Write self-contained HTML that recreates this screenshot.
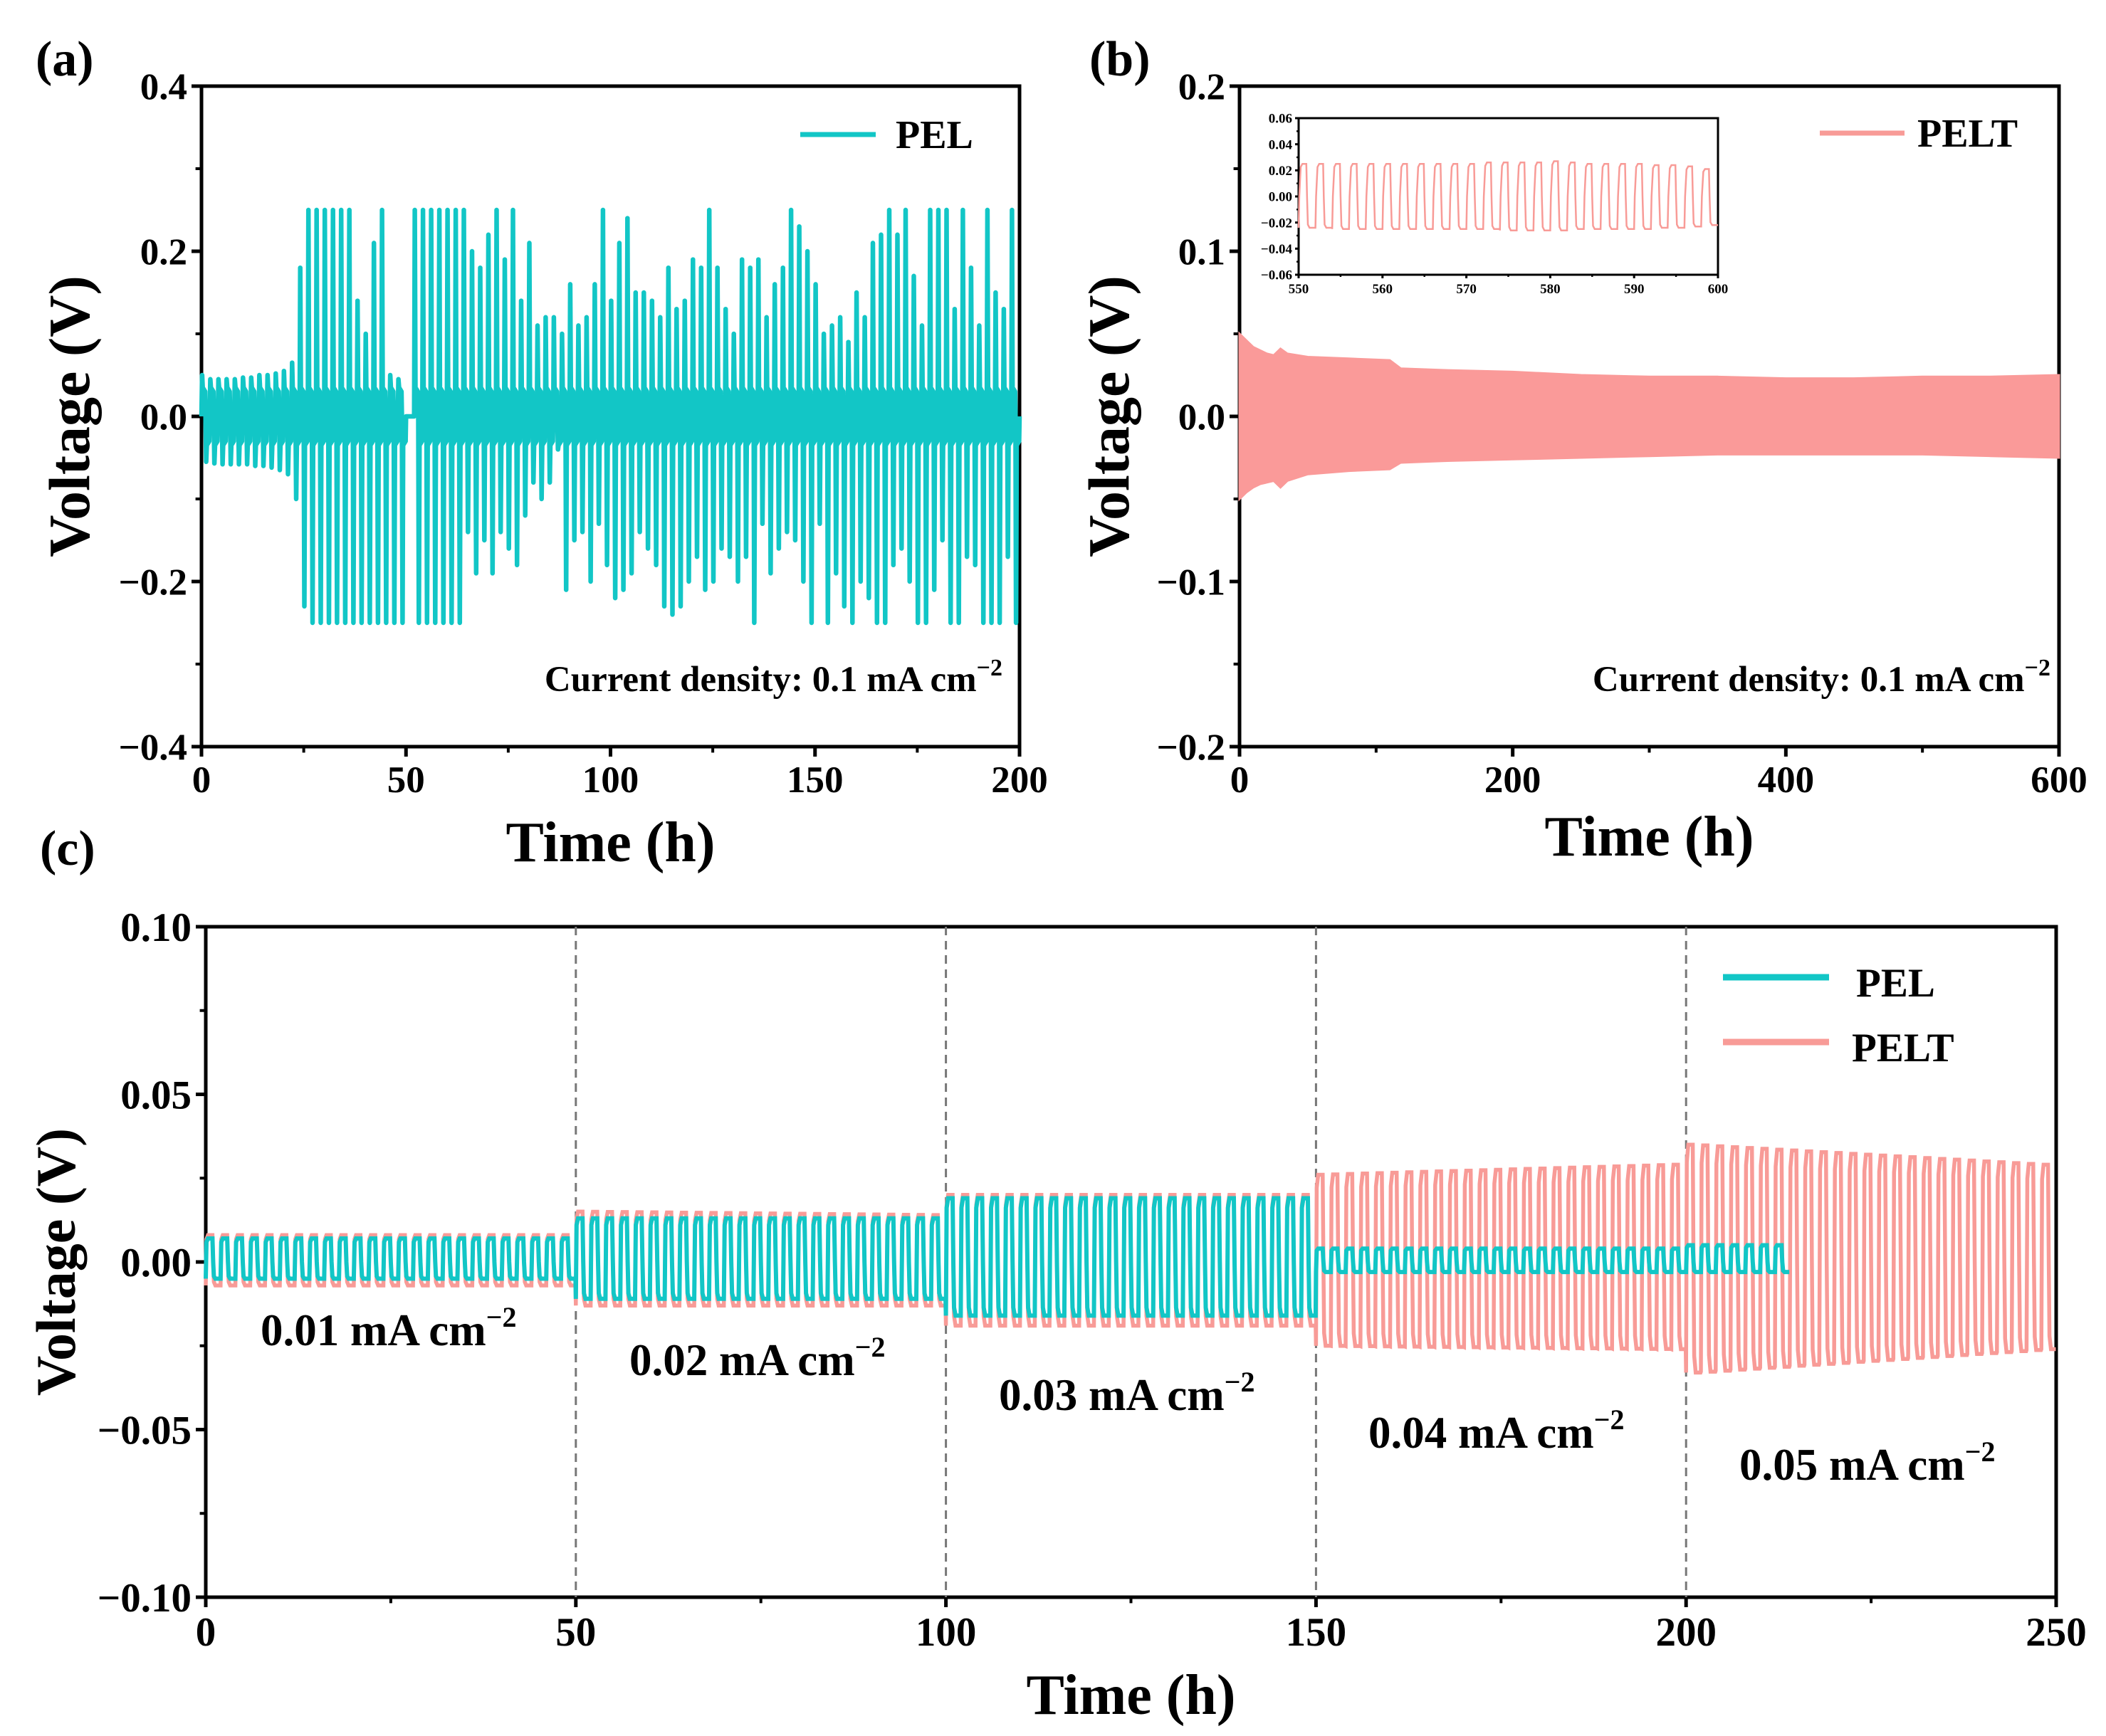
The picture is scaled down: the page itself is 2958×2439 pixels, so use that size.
<!DOCTYPE html>
<html><head><meta charset="utf-8"><style>
html,body{margin:0;padding:0;background:#fff;}
svg{display:block;font-family:"Liberation Serif",serif;font-weight:bold;}
</style></head><body>
<svg id="fig" width="2958" height="2439" viewBox="0 0 2958 2439" xmlns="http://www.w3.org/2000/svg"></svg>
<script>
// ---------- DATA ----------
const aCycleStart = [0,2,4,6,8,10,12,14,16,18,20,22,24,26,28,30,32,34,36,38,40,42,44,46,48,50,52,54,56,58,60,62,64,66,68,70,72,74,76,78,80,82,84,86,88,90,92,94,96,98,100,102,104,106,108,110,112,114,116,118,120,122,124,126,128,130,132,134,136,138,140,142,144,146,148,150,152,154,156,158,160,162,164,166,168,170,172,174,176,178,180,182,184,186,188,190,192,194,196,198];
const aPeakUp = [0.05,0.045,0.045,0.045,0.045,0.047,0.047,0.05,0.05,0.052,0.055,0.065,0.18,0.25,0.25,0.25,0.25,0.25,0.25,0.14,0.1,0.21,0.25,0.05,0.045,0.0,0.25,0.25,0.25,0.25,0.25,0.25,0.25,0.2,0.18,0.22,0.25,0.19,0.25,0.14,0.21,0.11,0.12,0.12,0.1,0.16,0.11,0.12,0.16,0.25,0.14,0.21,0.24,0.15,0.15,0.14,0.12,0.18,0.13,0.14,0.19,0.18,0.25,0.18,0.13,0.1,0.19,0.18,0.19,0.12,0.16,0.18,0.25,0.23,0.2,0.16,0.1,0.11,0.12,0.09,0.15,0.12,0.21,0.22,0.25,0.22,0.25,0.17,0.11,0.25,0.25,0.25,0.13,0.25,0.18,0.11,0.25,0.15,0.13,0.25];
const aPeakDown = [-0.055,-0.057,-0.058,-0.058,-0.058,-0.058,-0.06,-0.06,-0.062,-0.065,-0.07,-0.1,-0.23,-0.25,-0.25,-0.25,-0.25,-0.25,-0.25,-0.25,-0.25,-0.25,-0.25,-0.25,-0.25,0.0,-0.25,-0.25,-0.25,-0.25,-0.25,-0.25,-0.14,-0.19,-0.15,-0.19,-0.14,-0.16,-0.18,-0.12,-0.08,-0.1,-0.08,-0.04,-0.21,-0.15,-0.14,-0.2,-0.13,-0.18,-0.22,-0.21,-0.19,-0.14,-0.16,-0.18,-0.23,-0.24,-0.23,-0.2,-0.17,-0.21,-0.2,-0.16,-0.17,-0.2,-0.17,-0.25,-0.13,-0.19,-0.16,-0.14,-0.15,-0.2,-0.25,-0.13,-0.25,-0.19,-0.23,-0.25,-0.2,-0.22,-0.25,-0.25,-0.18,-0.16,-0.2,-0.25,-0.25,-0.21,-0.15,-0.25,-0.25,-0.17,-0.18,-0.25,-0.25,-0.25,-0.17,-0.25];
const bTimes = [0,5,10,15,20,25,30,35,50,80,110,118,150,200,250,300,350,400,450,500,550,600];
const bUpper = [0.05,0.046,0.042,0.04,0.038,0.037,0.041,0.038,0.036,0.035,0.034,0.029,0.028,0.027,0.025,0.024,0.024,0.023,0.023,0.024,0.024,0.025];
const bLower = [-0.05,-0.046,-0.043,-0.041,-0.04,-0.039,-0.043,-0.039,-0.035,-0.033,-0.032,-0.028,-0.027,-0.026,-0.025,-0.024,-0.023,-0.023,-0.023,-0.023,-0.024,-0.025];
const insetCycleStart = [550,552,554,556,558,560,562,564,566,568,570,572,574,576,578,580,582,584,586,588,590,592,594,596,598];
const insetUp = [0.025,0.025,0.025,0.025,0.025,0.025,0.025,0.025,0.025,0.025,0.025,0.026,0.026,0.026,0.026,0.027,0.026,0.025,0.025,0.025,0.025,0.024,0.024,0.023,0.021];
const insetDown = [-0.024,-0.024,-0.025,-0.025,-0.025,-0.025,-0.025,-0.025,-0.025,-0.025,-0.025,-0.025,-0.026,-0.026,-0.026,-0.026,-0.025,-0.025,-0.025,-0.025,-0.025,-0.024,-0.024,-0.023,-0.022];
const cSegStart = [0,50,100,150,200];
const cSegLabels = ["0.01","0.02","0.03","0.04","0.05"];
const pelUp = [0.007,0.013,0.019,0.004,0.005];
const pelDown = [-0.005,-0.011,-0.016,-0.003,-0.003];
const pelEnd = 215;
const peltUpStart = [0.008,0.015,0.02,0.026,0.035];
const peltUpEnd = [0.008,0.014,0.02,0.029,0.029];
const peltDownStart = [-0.007,-0.013,-0.019,-0.025,-0.033];
const peltDownEnd = [-0.007,-0.013,-0.019,-0.026,-0.026];
const cTicksX = [0,50,100,150,200,250];
const cTicksY = [-0.10,-0.05,0.00,0.05,0.10];

// ---------- HELPERS ----------
const NS="http://www.w3.org/2000/svg";
const svg=document.getElementById('fig');
function el(tag,attrs,parent){const e=document.createElementNS(NS,tag);for(const k in attrs)e.setAttribute(k,attrs[k]);(parent||svg).appendChild(e);return e;}
function txt(s,x,y,size,anchor,parent){const t=el('text',{x:x,y:y,'font-size':size,'text-anchor':anchor||'start'},parent);t.textContent=s;return t;}
function fmtMinus(v,d){const s=Math.abs(v).toFixed(d);return v<0?'\u2212'+s:s;}
const CYAN='#12c6c6', PINK='#f89b97';

function axes(p){
  const g=el('g',{});
  
  
  el('rect',{x:p.L,y:p.T,width:p.R-p.L,height:p.B-p.T,fill:'none',stroke:'#000','stroke-width':p.sw||5},g);
  p.xt.forEach(v=>{const x=p.sx(v);el('line',{x1:x,y1:p.B,x2:x,y2:p.B+p.tl,stroke:'#000','stroke-width':p.sw||5},g);
    const t=txt(p.xf(v),x,p.B+p.xlo,p.fs,'middle',g);});
  (p.xm||[]).forEach(v=>{const x=p.sx(v);el('line',{x1:x,y1:p.B,x2:x,y2:p.B+p.tl*0.6,stroke:'#000','stroke-width':(p.sw||5)*0.8},g);});
  p.yt.forEach(v=>{const y=p.sy(v);el('line',{x1:p.L-p.tl,y1:y,x2:p.L,y2:y,stroke:'#000','stroke-width':p.sw||5},g);
    const t=txt(p.yf(v),p.L-p.ylo,y+p.fs*0.35,p.fs,'end',g);});
  (p.ym||[]).forEach(v=>{const y=p.sy(v);el('line',{x1:p.L-p.tl*0.6,y1:y,x2:p.L,y2:y,stroke:'#000','stroke-width':(p.sw||5)*0.8},g);});
  return g;
}

// ---------- PANEL A ----------
(function(){
  const L=283,R=1432,T=121,B=1049;
  const sx=v=>L+(v-0)/200*(R-L), sy=v=>B-(v+0.4)/0.8*(B-T);
  axes({name:'panel-a',L,R,T,B,sx,sy,xt:[0,50,100,150,200],xm:[25,75,125,175],yt:[-0.4,-0.2,0,0.2,0.4],ym:[-0.3,-0.1,0.1,0.3],
    xf:v=>String(v),yf:v=>fmtMinus(v,1),fs:53,tl:14,xlo:64,ylo:20});
  let d='';
  aCycleStart.forEach((t0,i)=>{
    const u=aPeakUp[i], dn=aPeakDown[i];
    if(u===0&&dn===0){d+=(d?'L':'M')+sx(t0)+','+sy(0)+'L'+sx(t0+2)+','+sy(0);return;}
    const pts=[[t0,0],[t0+0.15,u],[t0+0.3,0.035],[t0+0.9,0.03],[t0+1.0,0],[t0+1.15,dn],[t0+1.3,-0.035],[t0+1.9,-0.03],[t0+2,0]];
    pts.forEach((p,j)=>{d+=((d===''&&j===0)?'M':'L')+sx(p[0]).toFixed(1)+','+sy(p[1]).toFixed(1);});
  });
  const ln=el('path',{d:d,fill:'none',stroke:CYAN,'stroke-width':6.5,'stroke-linejoin':'round'});
  
  
  const lg=el('line',{x1:1124,y1:189,x2:1230,y2:189,stroke:CYAN,'stroke-width':7});
  
  
  const lt=txt('PEL',1258,208,56);
  const an=el('text',{x:1408,y:971,'font-size':51,'text-anchor':'end'});
  an.innerHTML='Current density: 0.1 mA cm<tspan dy="-22" font-size="34">\u22122</tspan>';
  
  const yt=txt('Voltage (V)',0,0,82,'middle');yt.setAttribute('transform','translate(125,'+((T+B)/2)+') rotate(-90)');
  
  const xt=txt('Time (h)',(L+R)/2,1210,80,'middle');
  const pl=txt('(a)',50,106,70);
})();

// ---------- PANEL B ----------
(function(){
  const L=1741,R=2892,T=121,B=1049;
  const sx=v=>L+v/600*(R-L), sy=v=>B-(v+0.2)/0.4*(B-T);
  axes({name:'panel-b',L,R,T,B,sx,sy,xt:[0,200,400,600],xm:[100,300,500],yt:[-0.2,-0.1,0,0.1,0.2],ym:[-0.15,-0.05,0.05,0.15],
    xf:v=>String(v),yf:v=>fmtMinus(v,1),fs:53,tl:14,xlo:64,ylo:20});
  let d='M'+sx(bTimes[0])+','+sy(bUpper[0]);
  bTimes.forEach((t,i)=>{d+='L'+sx(t).toFixed(1)+','+sy(bUpper[i]).toFixed(1);});
  for(let i=bTimes.length-1;i>=0;i--){d+='L'+sx(bTimes[i]).toFixed(1)+','+sy(bLower[i]).toFixed(1);}
  const f=el('path',{d:d+'Z',fill:'#fa9a99',stroke:'#fa9a99','stroke-width':3});
  
  
  const iL=1824,iR=2413,iT=166,iB=386;
  const ix=v=>iL+(v-550)/50*(iR-iL), iy=v=>iB-(v+0.06)/0.12*(iB-iT);
  axes({name:'inset',L:iL,R:iR,T:iT,B:iB,sx:ix,sy:iy,xt:[550,560,570,580,590,600],xm:[555,565,575,585,595],
    yt:[-0.06,-0.04,-0.02,0,0.02,0.04,0.06],ym:[-0.05,-0.03,-0.01,0.01,0.03,0.05],xf:v=>String(v),yf:v=>fmtMinus(v,2),fs:19,tl:5,xlo:26,ylo:9,sw:3});
  let dd='';
  insetCycleStart.forEach((t0,i)=>{
    const u=insetUp[i],dn=insetDown[i];
    const pts=[[t0,dn],[t0+0.08,0],[t0+0.25,u*0.9],[t0+0.45,u],[t0+0.92,u],[t0+1.0,0],[t0+1.1,dn*0.9],[t0+1.3,dn],[t0+2,dn]];
    pts.forEach((p,j)=>{dd+=((dd===''&&j===0)?'M':'L')+ix(p[0]).toFixed(1)+','+iy(p[1]).toFixed(1);});
  });
  const il=el('path',{d:dd,fill:'none',stroke:PINK,'stroke-width':2.5});
  
  
  const lg=el('line',{x1:2556,y1:187,x2:2675,y2:187,stroke:PINK,'stroke-width':7});
  
  const lt=txt('PELT',2693,206,56);
  const an=el('text',{x:2880,y:971,'font-size':51,'text-anchor':'end'});
  an.innerHTML='Current density: 0.1 mA cm<tspan dy="-22" font-size="34">\u22122</tspan>';
  
  const yt=txt('Voltage (V)',0,0,82,'middle');yt.setAttribute('transform','translate(1585,'+((T+B)/2)+') rotate(-90)');
  
  const xt=txt('Time (h)',(L+R)/2,1202,80,'middle');
  const pl=txt('(b)',1530,106,70);
})();

// ---------- PANEL C ----------
(function(){
  const L=289,R=2888,T=1302,B=2244;
  const sx=v=>L+v/250*(R-L), sy=v=>B-(v+0.1)/0.2*(B-T);
  axes({name:'panel-c',L,R,T,B,sx,sy,xt:cTicksX,xm:[25,75,125,175,225],yt:cTicksY,ym:[-0.075,-0.025,0.025,0.075],
    xf:v=>String(v),yf:v=>fmtMinus(v,2),fs:57,tl:14,xlo:68,ylo:20});
  cSegStart.slice(1).forEach(v=>{const l=el('line',{x1:sx(v),y1:T,x2:sx(v),y2:B,stroke:'#777','stroke-width':3,'stroke-dasharray':'12,8'});
    });
  function wave(upS,upE,dnS,dnE,endT){
    let d='';
    cSegStart.forEach((s,k)=>{
      for(let c=0;c<25;c++){
        const t0=s+c*2; if(t0+2>endT+0.01) break;
        const f=c/24;
        const u=upS[k]+(upE[k]-upS[k])*f, dn=dnS[k]+(dnE[k]-dnS[k])*f;
        const pts=[[t0,dn],[t0+0.1,u*0.85],[t0+0.3,u],[t0+0.9,u],[t0+1.0,0],[t0+1.1,dn*0.85],[t0+1.3,dn],[t0+1.95,dn]];
        pts.forEach((p,j)=>{d+=((d===''&&j===0)?'M':'L')+sx(p[0]).toFixed(1)+','+sy(p[1]).toFixed(1);});
      }
    });
    return d;
  }
  const p1=el('path',{d:wave(peltUpStart,peltUpEnd,peltDownStart,peltDownEnd,250),fill:'none',stroke:PINK,'stroke-width':5.5});
  
  const p2=el('path',{d:wave(pelUp,pelUp,pelDown,pelDown,pelEnd),fill:'none',stroke:CYAN,'stroke-width':6});
  
  const lx=[366,884,1403,1922,2443], ly=[1890,1932,1981,2034,2079];
  cSegLabels.forEach((s,i)=>{const t=el('text',{x:lx[i],y:ly[i],'font-size':63});
    t.innerHTML=s+' mA cm<tspan dy="-26" font-size="40">\u22122</tspan>';
    });
  const l1=el('line',{x1:2420,y1:1373,x2:2569,y2:1373,stroke:CYAN,'stroke-width':9});
  
  const t1=txt('PEL',2607,1400,57);
  const l2=el('line',{x1:2420,y1:1464,x2:2569,y2:1464,stroke:PINK,'stroke-width':9});
  
  const t2=txt('PELT',2601,1491,57);
  const yt=txt('Voltage (V)',0,0,78,'middle');yt.setAttribute('transform','translate(105,'+((T+B)/2)+') rotate(-90)');
  
  const xt=txt('Time (h)',(L+R)/2,2408,80,'middle');
  const pl=txt('(c)',56,1215,70);
})();
</script>
</body></html>
